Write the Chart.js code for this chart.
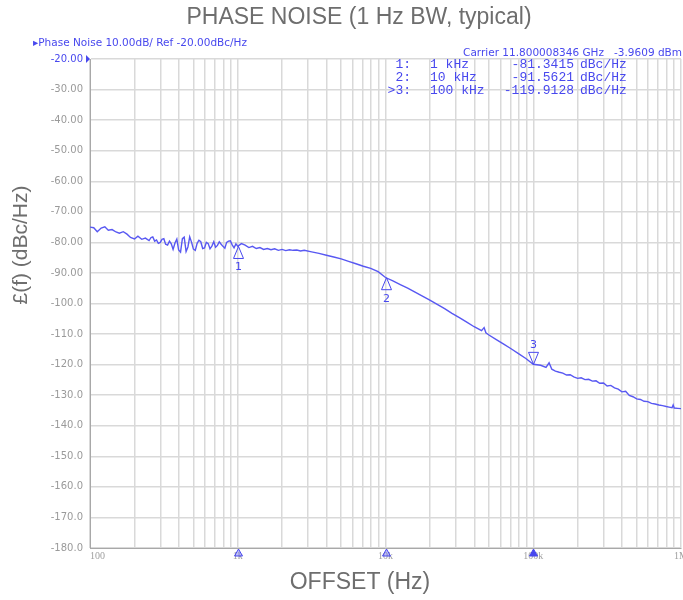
<!DOCTYPE html>
<html>
<head>
<meta charset="utf-8">
<script src="https://cdn.jsdelivr.net/npm/chart.js@4"></script>
<style>
  html, body { margin: 0; padding: 0; background: #fff; }
  canvas { display: block; }
</style>
</head>
<body>
<canvas id="chartPN" width="683" height="600"></canvas>
<script>
const offsetHz = [
  100, 106, 112, 119, 126, 133, 141, 150, 158, 168,
  178, 188, 200, 211, 224, 237, 251, 259, 266, 274,
  282, 290, 299, 307, 316, 325, 335, 345, 355, 365,
  376, 387, 398, 410, 422, 434, 447, 460, 473, 487,
  501, 516, 531, 546, 562, 579, 596, 613, 631, 649,
  668, 688, 708, 729, 750, 772, 794, 818, 841, 866,
  891, 917, 944, 972,
  1000, 1059, 1122, 1189, 1259, 1334, 1413, 1496, 1585, 1679,
  1778, 1884, 1995, 2113, 2239, 2371, 2512, 2661, 2818, 3162,
  3548, 3981, 4467, 5012, 5623, 6310, 7079, 7943, 8913,
  10000, 11220, 12590, 14130, 15850, 17780, 19950, 22390, 25120, 28180,
  31620, 35480, 39810, 44670, 46500, 47800, 50120, 56230, 63100, 70790,
  79430, 89130,
  100000, 112200, 122000, 128000, 133500, 141300, 150000, 158500, 168000, 177800,
  188000, 199500, 211000, 223900, 237000, 251200, 266000, 281800, 299000, 316200,
  335000, 354800, 376000, 398100, 422000, 446700, 473000, 501200, 531000, 562300,
  596000, 631000, 668000, 707900, 750000, 794300, 830000, 870000, 885000, 900000,
  950000, 1000000
];
const phaseNoise = [
  -75.0, -75.2, -76.5, -75.3, -74.9, -76.0, -75.8, -76.6, -77.0, -76.5,
  -77.3, -78.4, -78.9, -78.0, -79.0, -78.6, -79.4, -78.4, -78.2, -79.6,
  -79.2, -80.3, -80.0, -79.0, -78.8, -80.6, -80.9, -79.6, -80.5, -82.3,
  -80.2, -78.9, -82.5, -83.2, -78.8, -78.3, -83.0, -81.5, -78.2, -80.0,
  -82.2, -82.6, -80.3, -79.3, -79.8, -82.0, -81.8, -80.0, -80.4, -82.1,
  -81.2, -79.8, -81.6, -81.0, -79.8, -80.6, -81.3, -81.9, -80.0, -79.6,
  -79.5, -80.8, -81.8, -80.5,
  -81.3, -80.4, -80.9, -81.7, -81.3, -82.0, -81.7, -82.3, -82.0, -82.4,
  -82.1, -82.6, -82.3, -82.7, -82.4, -82.6, -82.5, -82.8, -82.6, -83.1,
  -83.6, -84.2, -84.8, -85.4, -86.2, -87.0, -87.8, -88.5, -89.6,
  -91.5, -92.6, -93.8, -95.0, -96.3, -97.6, -98.9, -100.3, -101.7, -103.2,
  -104.6, -106.1, -107.6, -108.9, -107.9, -109.6, -110.3, -111.8, -113.3, -114.8,
  -116.4, -118.0,
  -119.9, -120.2, -120.9, -119.4, -121.5, -122.1, -122.5, -122.8, -123.4, -123.3,
  -124.0, -124.5, -124.3, -124.9, -124.8, -125.4, -125.3, -126.1, -126.0, -127.0,
  -126.8, -127.6, -128.0, -128.9, -128.7, -130.1, -130.5, -131.2, -131.4, -132.0,
  -132.1, -132.7, -132.9, -133.2, -133.4, -133.7, -133.9, -134.1, -133.2, -134.2,
  -134.3, -134.4
];

// markers
const markerNames = ['1:', '2:', '>3:'];
const markerHz = [1000, 10000, 100000];
const markerFreqText = ['1 kHz', '10 kHz', '100 kHz'];
const markerDb = [-81.3415, -91.5621, -119.9128];

// axis ticks
const xDecades = [100, 1000, 10000, 100000, 1000000];
const xTickLabels = ['\u2002\u2002\u2002100', '1k', '10k', '100k', '1M'];
const yTickValues = [-20, -30, -40, -50, -60, -70, -80, -90, -100, -110, -120, -130, -140, -150, -160, -170, -180];
const yTickLabels = ['-20.00', '-30.00', '-40.00', '-50.00', '-60.00', '-70.00', '-80.00', '-90.00',
  '-100.0', '-110.0', '-120.0', '-130.0', '-140.0', '-150.0', '-160.0', '-170.0', '-180.0'];

const titleText = 'PHASE NOISE (1 Hz BW, typical)';
const xTitle = 'OFFSET (Hz)';
const yTitle = '£(f) (dBc/Hz)';
const headerLeft = '\u25B8Phase Noise 10.00dB/ Ref -20.00dBc/Hz';
const headerRight = 'Carrier 11.800008346 GHz   -3.9609 dBm';

const BLUE = '#4848ee';
const TEXT_GRAY = '#6e6e6e';

// grid lines at every 1..9 step of each decade
const xGrid = [];
for (let d = 100; d < 1000000; d *= 10) {
  for (let m = 1; m <= 9; m++) xGrid.push(m * d);
}
xGrid.push(1000000);

const points = offsetHz.map((f, i) => ({ x: f, y: phaseNoise[i] }));

function tri(ctx, x, y, w, h, filled) {
  ctx.beginPath();
  ctx.moveTo(x, y);
  ctx.lineTo(x - w, y + h);
  ctx.lineTo(x + w, y + h);
  ctx.closePath();
  if (filled) ctx.fill();
  ctx.stroke();
}

const overlay = {
  id: 'overlay',
  afterDraw(chart) {
    const ctx = chart.ctx;
    const xs = chart.scales.x, ys = chart.scales.y;
    ctx.save();

    // titles
    ctx.fillStyle = TEXT_GRAY;
    ctx.textAlign = 'center';
    ctx.textBaseline = 'middle';
    ctx.font = '23px "Liberation Sans", Arial, sans-serif';
    ctx.fillText(titleText, 359, 18);
    ctx.fillText(xTitle, 360, 583);
    ctx.font = '21px "Liberation Sans", Arial, sans-serif';
    ctx.save();
    ctx.translate(21, 245);
    ctx.rotate(-Math.PI / 2);
    ctx.fillText(yTitle, 0, 0);
    ctx.restore();

    // header lines
    ctx.fillStyle = BLUE;
    ctx.font = '10.5px "DejaVu Sans", sans-serif';
    ctx.textAlign = 'left';
    ctx.fillText(headerLeft, 33, 43);
    ctx.textAlign = 'right';
    ctx.fillText(headerRight, 682, 53);

    // marker table
    ctx.font = '13px "Liberation Mono", monospace';
    markerNames.forEach((n, i) => {
      const y = 65 + i * 12.6;
      ctx.textAlign = 'right';
      ctx.fillText(n, 411, y);
      ctx.fillText(markerDb[i].toFixed(4), 574, y);
      ctx.textAlign = 'left';
      ctx.fillText(markerFreqText[i], 430, y);
      ctx.fillText('dBc/Hz', 580, y);
    });

    // ref level arrow
    ctx.beginPath();
    ctx.moveTo(86, ys.top - 4);
    ctx.lineTo(90, ys.top);
    ctx.lineTo(86, ys.top + 4);
    ctx.closePath();
    ctx.fill();

    // markers on the trace and on the x axis
    ctx.strokeStyle = BLUE;
    ctx.lineWidth = 1;
    ctx.font = '11px "DejaVu Sans", sans-serif';
    ctx.textAlign = 'center';
    markerHz.forEach((f, i) => {
      const px = Math.round(xs.getPixelForValue(f)) + 0.5;
      const py = ys.getPixelForValue(markerDb[i]);
      const active = i === markerHz.length - 1;
      if (active) {
        tri(ctx, px, py, 5, -12, false);
        ctx.fillText(String(i + 1), px, py - 19);
      } else {
        tri(ctx, px, py, 5, 12, false);
        ctx.fillText(String(i + 1), px, py + 21);
      }
      ctx.fillStyle = active ? BLUE : 'rgba(72,72,238,0.35)';
      tri(ctx, px, ys.bottom + 1, 4, 7, true);
      ctx.fillStyle = BLUE;
    });

    ctx.restore();
  }
};

const ctPN = document.getElementById('chartPN');
const chartPN = new Chart(ctPN, {
  type: 'line',
  data: {
    datasets: [{
      data: points,
      borderColor: '#5858f2',
      borderWidth: 1.4,
      pointRadius: 0,
      tension: 0,
      fill: false
    }]
  },
  plugins: [overlay],
  options: {
    responsive: false,
    devicePixelRatio: 1,
    animation: false,
    events: [],
    layout: { padding: { top: 59, right: 2, left: 0, bottom: 0 } },
    plugins: {
      legend: { display: false },
      tooltip: { enabled: false }
    },
    scales: {
      x: {
        type: 'logarithmic',
        min: 100,
        max: 1000000,
        afterBuildTicks: (scale) => {
          scale.ticks = xGrid.map(v => ({ value: v }));
        },
        afterFit: (scale) => {
          scale.height = 52;
          scale.paddingLeft = 0;
          scale.paddingRight = 0;
        },
        grid: { color: '#d9d9d9', lineWidth: 1.5, drawTicks: false },
        border: { color: '#a8a8a8', width: 1 },
        ticks: {
          autoSkip: false,
          maxRotation: 0,
          padding: 2,
          color: '#a0a0a0',
          font: { family: '"Liberation Serif", serif', size: 10 },
          callback: (v) => {
            const k = xDecades.indexOf(v);
            return k >= 0 ? xTickLabels[k] : '';
          }
        }
      },
      y: {
        min: -180,
        max: -20,
        afterFit: (scale) => {
          scale.width = 90;
          scale.paddingTop = 0;
          scale.paddingBottom = 0;
        },
        grid: { color: '#d9d9d9', lineWidth: 1.5, drawTicks: false },
        border: { color: '#a8a8a8', width: 1 },
        ticks: {
          stepSize: 10,
          padding: 7,
          color: (c) => (c.tick && c.tick.value === -20 ? BLUE : '#9a9a9a'),
          font: { family: '"DejaVu Sans", sans-serif', size: 10 },
          callback: (v) => {
            const k = yTickValues.indexOf(v);
            return k >= 0 ? yTickLabels[k] : '';
          }
        }
      }
    }
  }
});
</script>
</body>
</html>
